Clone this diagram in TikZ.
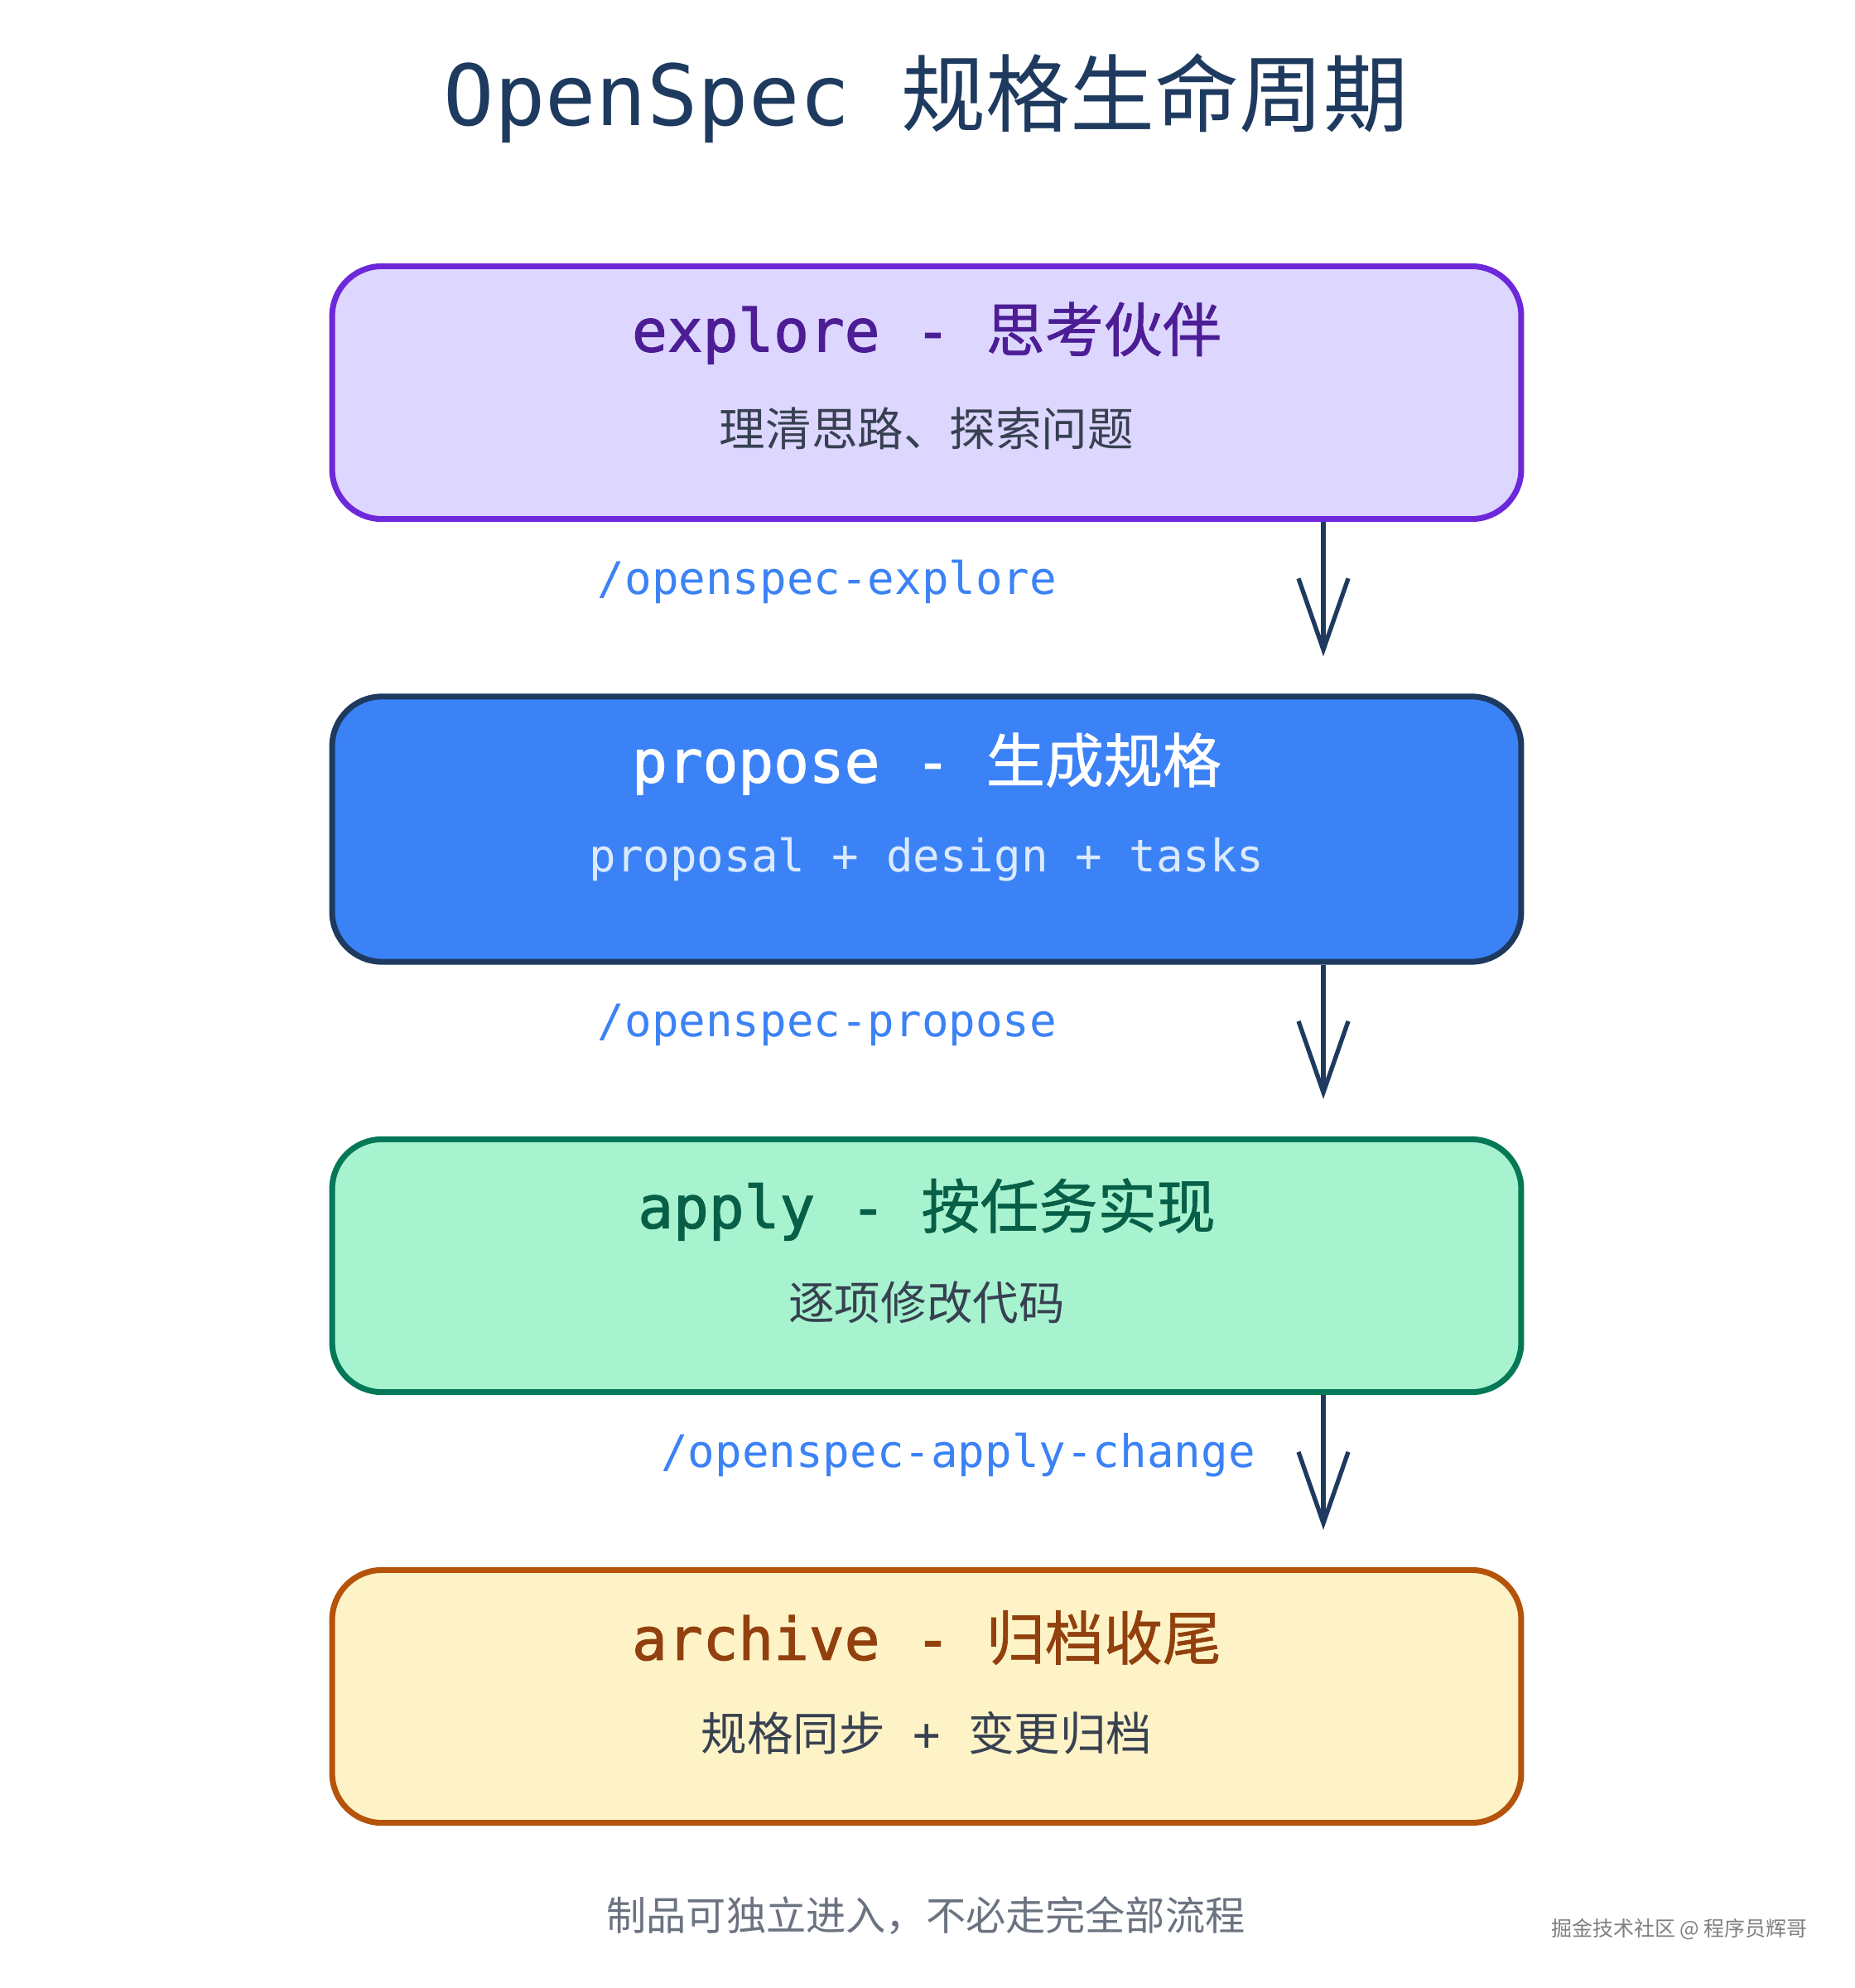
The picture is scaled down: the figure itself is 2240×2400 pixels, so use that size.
\documentclass[tikz,border=0pt]{standalone}
\usepackage{fontspec}
\setmonofont{DejaVu Sans Mono}
\newfontfamily\cjk{Noto Sans CJK SC}
\newfontfamily\headmono[FakeBold=1.6]{DejaVu Sans Mono}
\newfontfamily\headcjk[FakeBold=0.9]{Noto Sans CJK SC}
\usetikzlibrary{arrows.meta}

\definecolor{navy}{HTML}{1E3A5F}
\definecolor{slate}{HTML}{374151}
\definecolor{cmdblue}{HTML}{3B82F6}
\definecolor{notegray}{HTML}{6B7280}
\definecolor{exploreFill}{HTML}{DDD6FE}
\definecolor{exploreLine}{HTML}{6D28D9}
\definecolor{exploreText}{HTML}{4C1D95}
\definecolor{proposeFill}{HTML}{3B82F6}
\definecolor{proposeSub}{HTML}{DBEAFE}
\definecolor{applyFill}{HTML}{A7F3D0}
\definecolor{applyLine}{HTML}{047857}
\definecolor{applyText}{HTML}{065F46}
\definecolor{archiveFill}{HTML}{FEF3C7}
\definecolor{archiveLine}{HTML}{B45309}
\definecolor{archiveText}{HTML}{92400E}

\begin{document}
\begin{tikzpicture}[x=0.01cm, y=-0.01cm,
  box/.style={draw, rounded corners=0.6cm, line width=2pt,
    minimum width=14.35cm, minimum height=3.05cm},
  head/.style={font=\fontsize{20.2pt}{24pt}\selectfont},
  sub/.style={font=\fontsize{15.8pt}{19pt}\selectfont, text=slate},
  cmd/.style={font=\ttfamily\fontsize{15.4pt}{19pt}\selectfont, text=cmdblue},
  flow/.style={draw=navy, line width=1.5pt,
    -{Straight Barb[length=0.86cm, width=0.6cm]}, shorten >=0.45cm}]
  \fill[white] (0,0) rectangle (2240,2400);
  \useasboundingbox (0,0) rectangle (2240,2400);

  \node[font=\fontsize{29pt}{34pt}\selectfont, text=navy] (title) at (1118,119)
    {{\ttfamily OpenSpec }{\cjk 规格生命周期}};

  % the four stages
  \node[box, draw=exploreLine, fill=exploreFill] (explore) at (1119,474) {};
  \node[box, draw=navy, fill=proposeFill, minimum height=3.2cm] (propose) at (1119,1001) {};
  \node[box, draw=applyLine, fill=applyFill] (apply) at (1119,1528) {};
  \node[box, draw=archiveLine, fill=archiveFill] (archive) at (1119,2048) {};

  \node[head, text=exploreText] (exploreHead) at ([yshift=0.72cm]explore.center)
    {{\headmono explore - }{\headcjk 思考伙伴}};
  \node[sub] (exploreSub) at ([yshift=-0.43cm]explore.center) {\cjk 理清思路、探索问题};

  \node[head, text=white] (proposeHead) at ([yshift=0.79cm]propose.center)
    {{\headmono propose - }{\headcjk 生成规格}};
  \node[sub, text=proposeSub, font=\ttfamily\fontsize{15.4pt}{19pt}\selectfont]
    (proposeSub) at ([yshift=-0.37cm]propose.center) {proposal + design + tasks};

  \node[head, text=applyText] (applyHead) at ([yshift=0.68cm]apply.center)
    {{\headmono apply - }{\headcjk 按任务实现}};
  \node[sub] (applySub) at ([yshift=-0.44cm]apply.center) {\cjk 逐项修改代码};

  \node[head, text=archiveText] (archiveHead) at ([yshift=0.71cm]archive.center)
    {{\headmono archive - }{\headcjk 归档收尾}};
  \node[sub] (archiveSub) at ([yshift=-0.44cm]archive.center)
    {{\cjk 规格同步}{\ttfamily\ + }{\cjk 变更归档}};

  % commands between the stages
  \coordinate (rail) at (1598,0);
  \draw[flow] (explore.south -| rail) -- (propose.north -| rail);
  \draw[flow] (propose.south -| rail) -- (apply.north -| rail);
  \draw[flow] (apply.south -| rail) -- (archive.north -| rail);

  \node[cmd] (exploreCmd) at (999,702) {/openspec-explore};
  \node[cmd] (proposeCmd) at (999,1237) {/openspec-propose};
  \node[cmd] (applyCmd) at (1157,1757) {/openspec-apply-change};

  \node[font=\cjk\fontsize{13.7pt}{17pt}\selectfont, text=notegray] (note) at (1118,2313)
    {制品可独立进入，不必走完全部流程};
  \node[font=\cjk\fontsize{7.1pt}{9pt}\selectfont, text=gray] (mark) at (2028,2329)
    {掘金技术社区 @ 程序员辉哥};
\end{tikzpicture}
\end{document}
